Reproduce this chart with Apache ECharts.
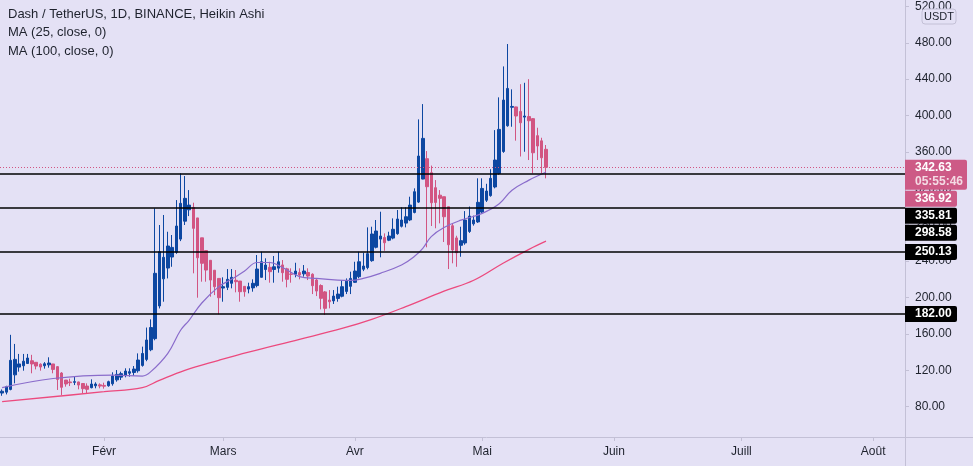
<!DOCTYPE html>
<html><head><meta charset="utf-8">
<script src="https://cdn.jsdelivr.net/npm/echarts@6/dist/echarts.min.js"></script>
<style>html,body{margin:0;padding:0;background:#E4E1F5;}#c{width:973px;height:466px;}</style>
</head><body><div id="c"></div>
<script>
// ---- data ----
const startDate = '2021-01-08';
const endDate = '2021-08-08';
const haOpen = [95,96,99,115,123.5,125,127.5,130.5,128.8,126.7,125,126,127,124,117,109.3,107.2,106.8,107.2,105.5,102.7,100.9,103,104,103.4,103,105.2,109.5,112.5,114.4,116.8,117.6,119.5,125.4,132,142.6,154.8,190.7,220.5,232.4,244.5,249.8,264.2,283.9,296.4,299,287.5,265.6,251.6,240.9,230,221,210.4,211.2,215.6,218.9,218.1,212.3,209.3,210.6,213.1,222.2,230.8,233.2,230.8,232.3,235.8,231.5,225.8,225.6,227.4,226,227.5,225.6,219.3,213.2,206.2,197.2,196.3,199,201.4,206.7,212.3,216.7,222.9,231.1,232.9,240.5,255.2,264.2,265.9,263,265.3,270.2,278.3,281.8,285.3,293.5,304.9,330.2,352.6,337.2,320.7,312.5,310.8,299.8,278.9,265.5,257.4,260,272.6,281,283.1,293.9,306.9,312,321.5,336.3,360.5,388.8,409.1,409.5,404.5,398.3,398.9,396.6,377.9,372.2,362.9];
const haClose = [97,102,131,132,127,130,133.5,127,124.7,123.6,127.2,128,121,110,101.3,105,106.4,107.5,103.8,99.8,99.1,104.9,104.9,102.7,102.5,107.5,113.7,115.5,116.3,119.2,118.5,121.4,131.3,138.5,153.3,167,226.6,250.3,244.2,256.6,255.1,278.6,303.5,309,301.6,276,243.7,237.6,230.2,219.2,211.9,199.8,211.9,220,222.2,217.4,206.4,206.4,211.9,215.6,231.3,239.3,235.7,228.4,233.8,239.3,227.3,220,225.5,229.1,224.7,229.1,223.6,213,207.1,199.1,188.1,195.4,201.6,203.8,211.9,218,221,229.1,239.3,234.6,248.2,269.8,273.1,267.6,260.2,267.6,275,286.3,285.2,288.8,301.6,316.3,355.5,374.9,321.8,304.2,304.5,309,288.8,258,252.2,249.2,262.5,285.2,289.5,285.2,304.6,319.9,317,331,351.1,384.8,417,429.8,410,399.5,392.1,399.5,394.3,359.1,366.5,353.6,343.1];
const haLow = [92,93.5,98,105.7,118.5,119.6,126.9,116.7,121,119.6,121.8,122.9,116.7,98.4,92.9,102,102.7,103.8,99.1,94.7,94.7,100.2,100.2,100.2,99.8,102,103.1,107.5,109.3,112.3,113,114.1,117.4,124,130,141,153,188,195.4,221,233.8,248,262,279.7,289.5,226.6,199.8,217.4,217.4,200.9,202.7,181.5,195.4,208.2,210.1,205.7,195.4,200.9,204.6,206.4,211.2,222,219.2,216.3,216.3,227.3,217.4,211.2,216.3,222.2,220,222.9,219.2,203.8,201.6,187,180.8,188.1,192.9,195.4,200.2,203.8,203.8,216,221.1,229,231,239.3,254,244.2,251.4,262,264,269,277,277.1,284,292.5,304,329.9,255.2,278.6,276.1,281.5,261,231.3,237.6,233.8,244.8,258,271,279,282,292,305,310.8,320,335,359,387.7,387.7,372.4,355,360.2,351.1,336.5,351.1,336.5,331];
const haHigh = [99,103,159,149,138,138,138,137,129,127.7,129,134.3,127,124.7,118,109.3,110.8,113,107.5,106,105.7,110.1,106.8,105.7,106.4,108.6,117.8,120.3,118.5,122.2,122.2,124.7,138.6,146,167,176,298,279.7,290.7,272.3,268.7,307.1,336.4,333.5,318.1,304.2,287.5,265.6,251.6,240.9,230,221,222.2,231.3,231.3,230.2,218.1,212.3,216.3,220,246.7,250.3,243.1,239.3,245.6,250.3,241.2,232.7,232.1,238.2,232.1,235.7,232.1,226.6,221.1,214.5,207.1,208.2,208.2,211.9,219.2,221,228.4,239.3,250.3,249.2,277.1,277.8,285.2,294.3,270.5,272.3,287,296.2,299.1,299.1,310.8,320,395.8,412.6,361,345,329.1,318.1,310.8,299.8,281.5,267.9,277.8,295,300,290,331,331,325,341,384,420,454,478.6,428.8,409.7,434.5,436,440,397.3,386.6,375.6,367.6];

const ma25Dates = ['2021-01-08','2021-01-20','2021-02-03','2021-02-10','2021-02-12','2021-02-16','2021-02-19','2021-02-21','2021-02-24','2021-02-28','2021-03-03','2021-03-06','2021-03-09','2021-03-12','2021-03-15','2021-03-19','2021-03-23','2021-03-28','2021-03-31','2021-04-03','2021-04-07','2021-04-12','2021-04-15','2021-04-17','2021-04-19','2021-04-22','2021-04-26','2021-05-01','2021-05-05','2021-05-08','2021-05-12','2021-05-15','2021-05-16'];
const ma25Values = [101,111,114.8,113.7,118.5,138.7,164,175,194,212,220,229,238.5,238.5,233,223,221,219.2,218.8,221,226.6,235.7,245,254,267,277,285,292.5,303,318,329,335.7,338];
const ma100Dates = ['2021-01-08','2021-02-01','2021-02-10','2021-02-14','2021-02-20','2021-02-28','2021-03-07','2021-03-19','2021-03-29','2021-04-05','2021-04-13','2021-04-22','2021-04-29','2021-05-06','2021-05-12','2021-05-16'];
const ma100Values = [85.5,96.5,101,109,120,131,140,154,166,176,190,207,219,238,253,262];

const levelValues = [335.81, 298.58, 250.13, 182.00];
const lastPrice = 342.63;
const haLastClose = 336.92;
const countdown = '05:55:46';
const yTickValues = [80,120,160,200,240,280,320,360,400,440,480,520];
const monthNames = {'02':'Févr','03':'Mars','04':'Avr','05':'Mai','06':'Juin','07':'Juill','08':'Août'};
const legendLines = ['Dash / TetherUS, 1D, BINANCE, Heikin Ashi','MA (25, close, 0)','MA (100, close, 0)'];

// ---- build ----
const BG = '#E4E1F5', BLUE = '#0D47A1', PINK = '#D25582', PINK_LBL = '#CD5A86', AXIS = '#C3C0D6', TXT = '#1E222D';
const FONT = 'Liberation Sans';
const categories = [];
{
  const d = new Date(startDate + 'T00:00:00Z'), e = new Date(endDate + 'T00:00:00Z');
  while (d <= e) { categories.push(d.toISOString().slice(0,10)); d.setUTCDate(d.getUTCDate()+1); }
}
const candleData = haOpen.map((o,i)=>[o, haClose[i], haLow[i], haHigh[i]]);
const isMonthStart = (idx, val) => String(val).slice(8,10) === '01';

const chart = echarts.init(document.getElementById('c'), null, {renderer:'canvas'});
chart.setOption({
  backgroundColor: BG,
  animation: false,
  grid: {left: -2, right: 68, top: 0, bottom: 29, containLabel: false},
  xAxis: {
    type: 'category', data: categories, boundaryGap: true,
    axisLine: {show: false},
    axisTick: {show: true, alignWithLabel: true, interval: isMonthStart, length: 4, lineStyle: {color: AXIS}},
    axisLabel: {interval: isMonthStart, margin: 9, color: TXT, fontFamily: FONT, fontSize: 12,
      formatter: v => monthNames[v.slice(5,7)] || ''},
    splitLine: {show: false}
  },
  yAxis: {
    type: 'value', position: 'right', min: 46.7, max: 527, scale: true,
    axisLine: {show: false},
    axisTick: {show: true, length: 4, customValues: yTickValues, lineStyle: {color: AXIS}},
    axisLabel: {customValues: yTickValues, margin: 10, color: TXT, fontFamily: FONT, fontSize: 12,
      formatter: v => v.toFixed(2)},
    splitLine: {show: false}
  },
  series: [
    {
      type: 'candlestick', data: candleData, barWidth: 3,
      itemStyle: {color: BLUE, color0: PINK, borderColor: BLUE, borderColor0: PINK, borderWidth: 1},
      markLine: {
        silent: true, symbol: 'none', label: {show: false}, animation: false,
        data: [
          {yAxis: lastPrice, lineStyle: {color: PINK, type: [1,2], width: 1}},
          ...levelValues.map(v => ({yAxis: v, lineStyle: {color: '#000', type: 'solid', width: 1.5}}))
        ]
      }
    },
    {type: 'line', data: ma25Dates.map((d,i)=>[d, ma25Values[i]]), smooth: 0.4, showSymbol: false,
      lineStyle: {color: '#8A6CCB', width: 1.2}, z: 3},
    {type: 'line', data: ma100Dates.map((d,i)=>[d, ma100Values[i]]), smooth: 0.4, showSymbol: false,
      lineStyle: {color: '#EC4A7E', width: 1.3}, z: 3}
  ]
});

// price labels on the right scale, stacked so they do not overlap
const labels = [
  {v: lastPrice, bg: PINK_LBL, sub: countdown, w: 62},
  {v: haLastClose, bg: PINK_LBL, w: 52},
  ...levelValues.map(v => ({v, bg: '#000', w: 52}))
];
const graphics = [];
let prevBottom = -1e9;
labels.forEach(l => {
  const py = chart.convertToPixel({yAxisIndex: 0}, l.v);
  const h = l.sub ? 30 : 16;
  const top = Math.max(py - 8, prevBottom + 1);
  prevBottom = top + h;
  graphics.push({type: 'rect', shape: {x: 905, y: top, width: l.w, height: h, r: [0,2,2,0]}, style: {fill: l.bg}, z: 10});
  graphics.push({type: 'text', x: 915, y: top + 8, style: {text: l.v.toFixed(2), fill: '#fff', font: 'bold 12px ' + FONT, verticalAlign: 'middle'}, z: 11});
  if (l.sub) graphics.push({type: 'text', x: 915, y: top + 22, style: {text: l.sub, fill: 'rgba(255,255,255,0.78)', font: 'bold 12px ' + FONT, verticalAlign: 'middle'}, z: 11});
});
// frame lines of the price and time scales
graphics.push({type: 'line', shape: {x1: 905.5, y1: 0, x2: 905.5, y2: 466}, style: {stroke: AXIS, lineWidth: 1}, z: 9});
graphics.push({type: 'line', shape: {x1: 0, y1: 437.5, x2: 973, y2: 437.5}, style: {stroke: AXIS, lineWidth: 1}, z: 9});
// currency box
graphics.push({type: 'rect', shape: {x: 922, y: 9, width: 34, height: 15, r: 3}, style: {fill: BG, stroke: AXIS, lineWidth: 1}, z: 12});
graphics.push({type: 'text', x: 939, y: 16.5, style: {text: 'USDT', fill: TXT, font: '11px ' + FONT, align: 'center', verticalAlign: 'middle'}, z: 13});
// legend
legendLines.forEach((t, i) => {
  graphics.push({type: 'text', x: 8, y: 14 + i * 18.5, style: {text: t, fill: TXT, font: '13px ' + FONT, verticalAlign: 'middle'}, z: 12});
});
chart.setOption({graphic: graphics});
</script></body></html>
